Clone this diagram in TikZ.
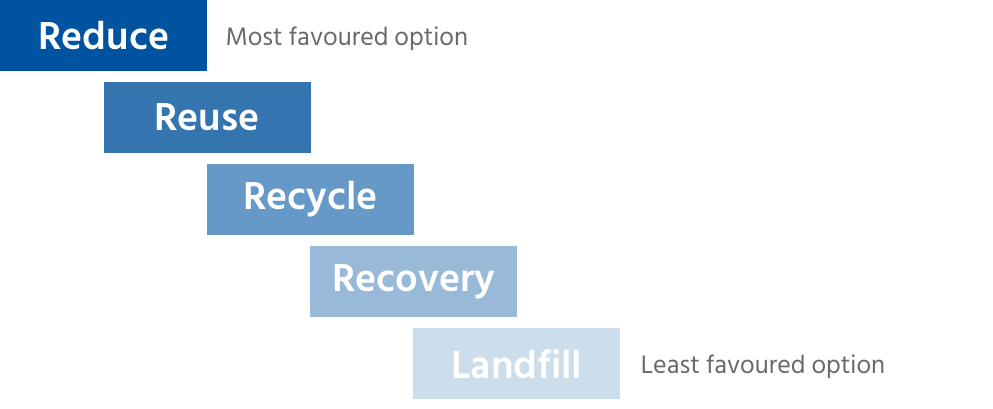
\documentclass[tikz,border=0pt]{standalone}
\usepackage{fontspec}
\setmainfont{Hind Siliguri}
\begin{document}
\begin{tikzpicture}[x=1pt,y=-1pt,
  stepbox/.style={rectangle, inner sep=0pt, minimum width=207pt, minimum height=70.7pt, anchor=north west, text=white, font=\fontsize{40}{44}\selectfont\bfseries},
  note/.style={anchor=west, text=notegray, font=\fontsize{26}{30}\selectfont, inner sep=0pt}]
\definecolor{c1}{HTML}{00539F}
\definecolor{c2}{HTML}{3475B0}
\definecolor{c3}{HTML}{6699C7}
\definecolor{c4}{HTML}{99B9D9}
\definecolor{c5}{HTML}{CCDDEB}
\definecolor{notegray}{HTML}{6C6868}
\useasboundingbox (0,0) rectangle (993,409);
\node[stepbox, fill=c1] (reduce) at (0,0) {Reduce};
\node[stepbox, fill=c2] (reuse) at (103.3,82) {Reuse};
\node[stepbox, fill=c3] (recycle) at (206.6,164) {Recycle};
\node[stepbox, fill=c4] (recovery) at (309.9,246) {Recovery};
\node[stepbox, fill=c5] (landfill) at (413.2,328) {Landfill};
\node[note] (most) at ([xshift=18pt,yshift=-3pt]reduce.east) {Most favoured option};
\node[note] (least) at ([xshift=20pt,yshift=-3pt]landfill.east) {Least favoured option};
\end{tikzpicture}
\end{document}
